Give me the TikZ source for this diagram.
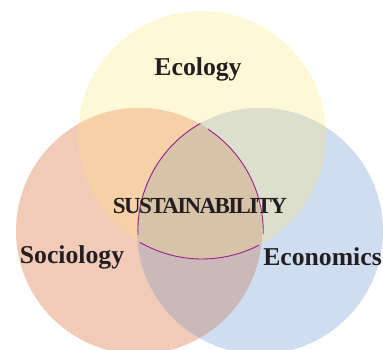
\documentclass[tikz,border=0pt]{standalone}
\usepackage{fontspec}
\setmainfont{Liberation Serif}
\definecolor{cY}{RGB}{255,248,214}
\definecolor{cP}{RGB}{241,202,184}
\definecolor{cB}{RGB}{206,221,240}
\definecolor{cYP}{RGB}{246,208,166}
\definecolor{cYB}{RGB}{219,223,204}
\definecolor{cPB}{RGB}{203,184,185}
\definecolor{cYPB}{RGB}{215,195,168}
\definecolor{arcc}{RGB}{155,31,140}
\definecolor{txt}{RGB}{35,31,32}
\begin{document}
\begin{tikzpicture}[x=1pt,y=1pt,
  setc/.style={circle,minimum size=#1,inner sep=0pt,outer sep=0pt},
  lbl/.style={font=\fontsize{25.7}{28}\selectfont\bfseries,text=txt,anchor=base,inner sep=0pt},
  sarc/.style={draw=arcc,line width=0.9pt}]
\useasboundingbox[fill=white] (0,0) rectangle (383,349);
\def\Yc{(202,214) circle (124)}
\def\Pc{(139,118) circle (123)}
\def\Bc{(260,118) circle (123)}
\node[setc=248pt] (eco) at (202,214) {};
\node[setc=246pt] (soc) at (139,118) {};
\node[setc=246pt] (ecn) at (260,118) {};
\fill[cY] \Yc;
\fill[cP] \Pc;
\fill[cB] \Bc;
\begin{scope}
  \clip \Yc;
  \fill[cYP] \Pc;
  \fill[cYB] \Bc;
\end{scope}
\begin{scope}
  \clip \Pc;
  \fill[cPB] \Bc;
\end{scope}
\begin{scope}
  \clip \Yc;
  \clip \Pc;
  \fill[cYPB] \Bc;
\end{scope}
% boundary arcs of the common region
\draw[sarc] (ecn.119.5) arc[start angle=119.5,end angle=182,radius=123];
\draw[sarc] (soc.56.7) arc[start angle=56.7,end angle=-1,radius=123];
\draw[sarc] (eco.240) arc[start angle=240,end angle=297.4,radius=124];
% labels
\node[lbl] (tE) at (198,273) {Ecology};
\node[lbl] (tS) at (72,86) {Sociology};
\node[lbl] (tN) at (322.5,84) {Economics};
\node[font=\fontsize{23}{26}\selectfont\bfseries\addfontfeature{LetterSpace=-7},text=txt,anchor=base,inner sep=0pt] (tC) at (200,136) {SUSTAINABILITY};
\end{tikzpicture}
\end{document}
